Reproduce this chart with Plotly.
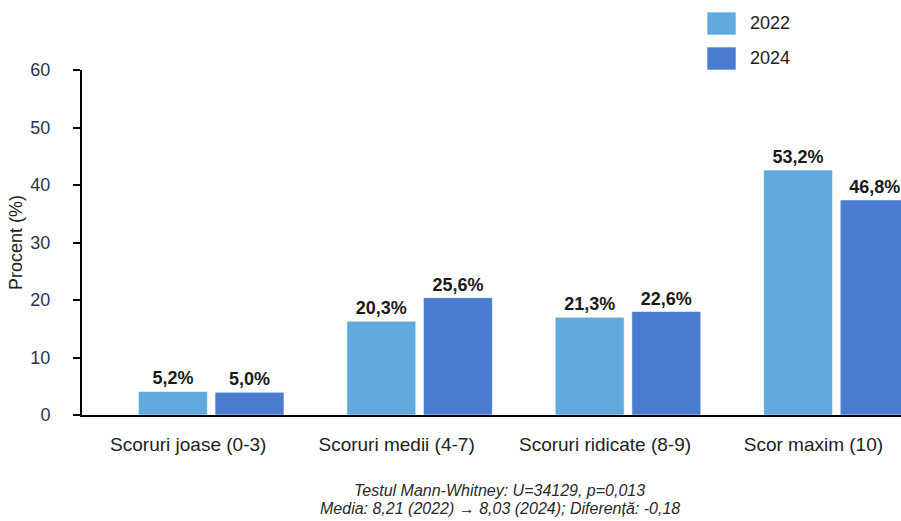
import plotly.graph_objects as go

categories = ["Scoruri joase (0-3)", "Scoruri medii (4-7)", "Scoruri ridicate (8-9)", "Scor maxim (10)"]
series_names = ["2022", "2024"]
bars_2022 = [4.1, 16.3, 17.0, 42.6]
bars_2024 = [3.95, 20.4, 18.0, 37.4]
labels_2022 = ["5,2%", "20,3%", "21,3%", "53,2%"]
labels_2024 = ["5,0%", "25,6%", "22,6%", "46,8%"]
y_ticks = [0, 10, 20, 30, 40, 50, 60]
footer_lines = [
    "Testul Mann-Whitney: U=34129, p=0,013",
    "Media: 8,21 (2022) \u2192 8,03 (2024); Diferen\u021b\u0103: -0,18",
]

colors = ["#62aadd", "#4a7dcf"]
FONT = "Liberation Sans, Arial, sans-serif"

fig = go.Figure()
for name, vals, labs, col in zip(series_names, [bars_2022, bars_2024], [labels_2022, labels_2024], colors):
    fig.add_trace(go.Bar(
        x=categories, y=vals, name=name, text=labs,
        textposition="outside", cliponaxis=False, constraintext="none",
        textfont=dict(family=FONT, size=18, color="#1a1a1a", weight="bold"),
        marker=dict(color=col, line=dict(color="rgba(255,255,255,0.55)", width=1)),
        showlegend=False,
    ))

W, H = 901, 521
L, R, T, B = 82, 0, 70, 106
pw, ph = W - L - R, H - T - B

def px(sx):
    return (sx - L) / pw

def py(sy):
    return (H - B - sy) / ph

# custom legend
for i, (name, col) in enumerate(zip(series_names, colors)):
    top = 12 + i * 35
    fig.add_shape(type="rect", xref="paper", yref="paper",
                  x0=px(707), x1=px(736), y0=py(top), y1=py(top + 23),
                  fillcolor=col, line=dict(color="rgba(255,255,255,0.6)", width=1))
    fig.add_annotation(xref="paper", yref="paper", x=px(748), y=py(top + 11.5),
                       text=name, showarrow=False, xanchor="left", yanchor="middle",
                       font=dict(family=FONT, size=18, color="#222"))

for i, line in enumerate(footer_lines):
    fig.add_annotation(xref="paper", yref="paper", x=px(500), y=py(491 + i * 17),
                       text="<i>" + line + "</i>", showarrow=False,
                       xanchor="center", yanchor="middle",
                       font=dict(family=FONT, size=16, color="#2a2a2a"))

fig.update_layout(
    width=W, height=H,
    margin=dict(l=L, r=R, t=T, b=B),
    paper_bgcolor="white", plot_bgcolor="white",
    barmode="group", bargap=0.265, bargroupgap=0.1,
    font=dict(family=FONT, color="#222"),
    hovermode=False,
)
fig.update_xaxes(
    range=[-0.62, 3.31], showline=True, linecolor="black", linewidth=2,
    ticks="", showgrid=False, ticklabelstandoff=11, ticklabelshift=-23,
    tickfont=dict(family=FONT, size=19, color="#222"),
)
fig.update_yaxes(
    range=[0, 60], tickvals=y_ticks, showline=True, linecolor="black", linewidth=2,
    ticks="outside", ticklen=7, tickwidth=2, tickcolor="black", showgrid=False,
    zeroline=False, ticklabelstandoff=19,
    tickfont=dict(family=FONT, size=18, color="#2a3550"),
    title=dict(text="Procent (%)", font=dict(family=FONT, size=18, color="#222"), standoff=3),
)

fig.write_html(
    "out.html",
    config={"displayModeBar": False, "staticPlot": True},
    post_script="document.body.style.margin='0';document.body.style.overflow='hidden';",
)
